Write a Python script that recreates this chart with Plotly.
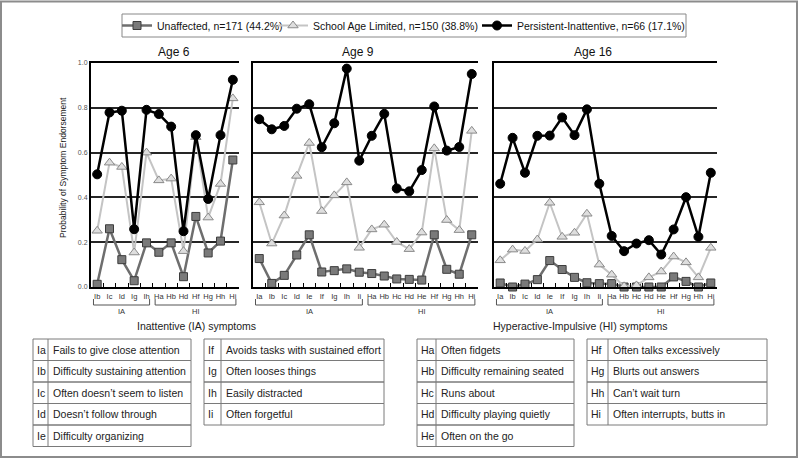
import plotly.graph_objects as go

W, H = 800, 460
FONT = "Liberation Sans Narrow, Arial Narrow, Liberation Sans, Arial, sans-serif"

# ---------------- data ----------------
series_names = ["Unaffected, n=171 (44.2%)",
                "School Age Limited, n=150 (38.8%)",
                "Persistent-Inattentive, n=66 (17.1%)"]

age6_codes = ["Ib", "Ic", "Id", "Ig", "Ih", "Ha", "Hb", "Hd", "Hf", "Hg", "Hh", "Hi"]
age6_unaffected = [0.012, 0.26, 0.122, 0.028, 0.197, 0.155, 0.197, 0.046, 0.315, 0.152, 0.205, 0.567]
age6_school = [0.251, 0.555, 0.536, 0.154, 0.600, 0.476, 0.484, 0.160, 0.669, 0.310, 0.460, 0.842]
age6_persistent = [0.503, 0.779, 0.787, 0.258, 0.791, 0.772, 0.716, 0.249, 0.678, 0.393, 0.678, 0.925]

full_codes = ["Ia", "Ib", "Ic", "Id", "Ie", "If", "Ig", "Ih", "Ii",
              "Ha", "Hb", "Hc", "Hd", "He", "Hf", "Hg", "Hh", "Hi"]

age9_unaffected = [0.127, 0.016, 0.052, 0.143, 0.233, 0.067, 0.073, 0.081, 0.066,
                   0.060, 0.049, 0.036, 0.034, 0.031, 0.233, 0.079, 0.057, 0.233]
age9_school = [0.378, 0.194, 0.319, 0.496, 0.643, 0.339, 0.409, 0.467, 0.175,
               0.257, 0.278, 0.201, 0.169, 0.243, 0.619, 0.299, 0.254, 0.697]
age9_persistent = [0.749, 0.704, 0.719, 0.796, 0.816, 0.624, 0.731, 0.975, 0.564,
                   0.675, 0.773, 0.440, 0.427, 0.522, 0.806, 0.609, 0.625, 0.951]

age16_unaffected = [0.018, 0.0, 0.013, 0.033, 0.118, 0.078, 0.043, 0.019, 0.015,
                    0.015, 0.0, 0.0, 0.0, 0.0, 0.045, 0.025, 0.0, 0.018]
age16_school = [0.119, 0.167, 0.161, 0.212, 0.376, 0.224, 0.242, 0.327, 0.100,
                0.055, 0.003, 0.007, 0.043, 0.069, 0.136, 0.110, 0.043, 0.175]
age16_persistent = [0.461, 0.666, 0.510, 0.675, 0.676, 0.757, 0.678, 0.793, 0.461,
                    0.228, 0.160, 0.194, 0.209, 0.145, 0.257, 0.401, 0.224, 0.510]

panel_titles = ["Age 6", "Age 9", "Age 16"]
y_ticks = [0.0, 0.2, 0.4, 0.6, 0.8, 1.0]
y_tick_labels = ["0.0", "0.2", "0.4", "0.6", "0.8", "1.0"]

ia_codes = ["Ia", "Ib", "Ic", "Id", "Ie", "If", "Ig", "Ih", "Ii"]
ia_desc = ["Fails to give close attention", "Difficulty sustaining attention",
           "Often doesn\u2019t seem to listen", "Doesn\u2019t follow through",
           "Difficulty organizing", "Avoids tasks with sustained effort",
           "Often looses things", "Easily distracted", "Often forgetful"]
hi_codes = ["Ha", "Hb", "Hc", "Hd", "He", "Hf", "Hg", "Hh", "Hi"]
hi_desc = ["Often fidgets", "Difficulty remaining seated", "Runs about",
           "Difficulty playing quietly", "Often on the go", "Often talks excessively",
           "Blurts out answers", "Can\u2019t wait turn", "Often interrupts, butts in"]

# ---------------- layout helpers ----------------
def px(x):
    return x / W

def py(y):
    return 1 - y / H

panels = [
    dict(codes=age6_codes, vals=[age6_unaffected, age6_school, age6_persistent],
         dom=(91, 239), title_x=174),
    dict(codes=full_codes, vals=[age9_unaffected, age9_school, age9_persistent],
         dom=(253, 478), title_x=358),
    dict(codes=full_codes, vals=[age16_unaffected, age16_school, age16_persistent],
         dom=(494, 717), title_x=593),
]

styles = [
    dict(line=dict(color="#6e6e6e", width=2.5),
         marker=dict(symbol="square", size=8, color="#7a7a7a",
                     line=dict(color="#3c3c3c", width=1))),
    dict(line=dict(color="#c4c4c4", width=2),
         marker=dict(symbol="triangle-up", size=9, color="#dedede",
                     line=dict(color="#8a8a8a", width=1))),
    dict(line=dict(color="#000000", width=2.5),
         marker=dict(symbol="circle", size=9, color="#000000",
                     line=dict(color="#000000", width=1))),
]
legend_ids = ["legend", "legend2", "legend3"]
legend_text_x = [157, 313, 517]   # where each legend entry's text starts (px)

TXT = 10.5

fig = go.Figure()
shapes = []
annotations = []
y_dom = (py(287), py(63))

for i, p in enumerate(panels):
    n = i + 1
    xa = "x" if n == 1 else f"x{n}"
    ya = "y" if n == 1 else f"y{n}"
    for s, (name, vals) in enumerate(zip(series_names, p["vals"])):
        fig.add_trace(go.Scatter(
            x=p["codes"], y=vals, mode="lines+markers", name=name,
            xaxis=xa, yaxis=ya, showlegend=(n == 1), legend=legend_ids[s],
            cliponaxis=False, line=styles[s]["line"], marker=styles[s]["marker"]))
    xkey = "xaxis" if n == 1 else f"xaxis{n}"
    ykey = "yaxis" if n == 1 else f"yaxis{n}"
    ncat = len(p["codes"])
    fig.update_layout({
        xkey: dict(domain=[px(p["dom"][0]), px(p["dom"][1])], anchor=ya,
                   type="category", categoryorder="array", categoryarray=p["codes"],
                   range=[-0.5, ncat - 0.5], showline=True, linecolor="#000",
                   linewidth=2, mirror=True, ticks="inside", tickson="boundaries",
                   ticklen=4, tickwidth=1.2, tickcolor="#000", showgrid=False,
                   tickangle=0,
                   tickfont=dict(size=7.5, color="#333", family=FONT), ticklabelstandoff=1),
        ykey: dict(domain=list(y_dom), anchor=xa, range=[0, 1],
                   tickvals=y_ticks, ticktext=y_tick_labels,
                   showticklabels=(n == 1), showgrid=True, gridcolor="#262626",
                   gridwidth=1.5, zeroline=False, showline=True, linecolor="#000",
                   linewidth=2, ticks="", tickfont=dict(size=7, color="#555", family=FONT)),
    })
    # panel title
    annotations.append(dict(text=panel_titles[i], x=px(p["title_x"]), xanchor="center",
                            y=py(52), yanchor="middle", xref="paper", yref="paper",
                            showarrow=False, font=dict(size=12, color="#111", family=FONT)))
    # IA / HI brackets
    ia_idx = [k for k, c in enumerate(p["codes"]) if c.startswith("I")]
    hi_idx = [k for k, c in enumerate(p["codes"]) if c.startswith("H")]
    for label, idx in (("IA", ia_idx), ("HI", hi_idx)):
        x0, x1 = idx[0] - 0.3, idx[-1] + 0.25
        yb, yt = py(305), py(299)
        for (a0, a1, b0, b1) in ((x0, x1, yb, yb), (x0, x0, yb, yt), (x1, x1, yb, yt)):
            shapes.append(dict(type="line", xref=xa, yref="paper", x0=a0, x1=a1,
                               y0=b0, y1=b1, line=dict(color="#555", width=1)))
        annotations.append(dict(text=label, x=(idx[0] + idx[-1]) / 2, xanchor="center",
                                y=py(311), yanchor="middle", xref=xa, yref="paper",
                                showarrow=False, font=dict(size=7.5, color="#333", family=FONT)))

# y-axis title
annotations.append(dict(text="Probability of Symptom Endorsement", x=px(63), y=py(168),
                        xanchor="center", yanchor="middle",
                        xref="paper", yref="paper", showarrow=False, textangle=-90,
                        font=dict(size=8.5, color="#222", family=FONT)))

# section headings
annotations.append(dict(text="Inattentive (IA) symptoms", x=px(196), y=py(326),
                        xanchor="center", yanchor="middle",
                        xref="paper", yref="paper", showarrow=False,
                        font=dict(size=TXT, color="#222", family=FONT)))
annotations.append(dict(text="Hyperactive-Impulsive (HI) symptoms", x=px(580), y=py(326),
                        xanchor="center", yanchor="middle",
                        xref="paper", yref="paper", showarrow=False,
                        font=dict(size=TXT, color="#222", family=FONT)))

# tables
tables = [
    (ia_codes[:5], ia_desc[:5], 33, 48, 191),
    (ia_codes[5:], ia_desc[5:], 204, 221, 384),
    (hi_codes[:5], hi_desc[:5], 417, 436, 574),
    (hi_codes[5:], hi_desc[5:], 587, 608, 767),
]
row_top, row_h = 339, 21.5
for codes, descs, xl, xd, xr in tables:
    for r, (c, d) in enumerate(zip(codes, descs)):
        t = row_top + r * row_h
        b = t + row_h
        shapes.append(dict(type="rect", xref="paper", yref="paper", x0=px(xl), x1=px(xr),
                           y0=py(b), y1=py(t), line=dict(color="#7a7a7a", width=1)))
        shapes.append(dict(type="line", xref="paper", yref="paper", x0=px(xd), x1=px(xd),
                           y0=py(b), y1=py(t), line=dict(color="#7a7a7a", width=1)))
        annotations.append(dict(text=c, x=px(xl + 2), y=py(t + row_h / 2),
                                xanchor="left", yanchor="middle",
                                xref="paper", yref="paper", showarrow=False,
                                font=dict(size=TXT, color="#222", family=FONT)))
        annotations.append(dict(text=d, x=px(xd + 3), y=py(t + row_h / 2),
                                xanchor="left", yanchor="middle",
                                xref="paper", yref="paper", showarrow=False,
                                font=dict(size=TXT, color="#222", family=FONT)))

# legend box
shapes.append(dict(type="rect", xref="paper", yref="paper", x0=px(122), x1=px(686),
                   y0=py(37), y1=py(14), line=dict(color="#888", width=1)))
# outer frame
shapes.append(dict(type="rect", xref="paper", yref="paper", x0=px(1), x1=px(797),
                   y0=py(457), y1=py(1.5), line=dict(color="#8c8c8c", width=2)))

legend_layout = {}
for lid, tx in zip(legend_ids, legend_text_x):
    legend_layout[lid] = dict(orientation="h", x=px(tx - 40), xanchor="left",
                              y=py(25.5), yanchor="middle", borderwidth=0,
                              bgcolor="rgba(0,0,0,0)",
                              font=dict(size=TXT, family=FONT, color="#111"),
                              itemwidth=30)

fig.update_layout(
    width=W, height=H, paper_bgcolor="white", plot_bgcolor="white",
    margin=dict(l=0, r=0, t=0, b=0, autoexpand=False),
    font=dict(family=FONT, color="#222"),
    showlegend=True,
    shapes=shapes, annotations=annotations,
    **legend_layout,
)

fig.write_html("out.html", config={"displayModeBar": False},
               post_script="document.body.style.margin='0';document.body.style.overflow='hidden';")
